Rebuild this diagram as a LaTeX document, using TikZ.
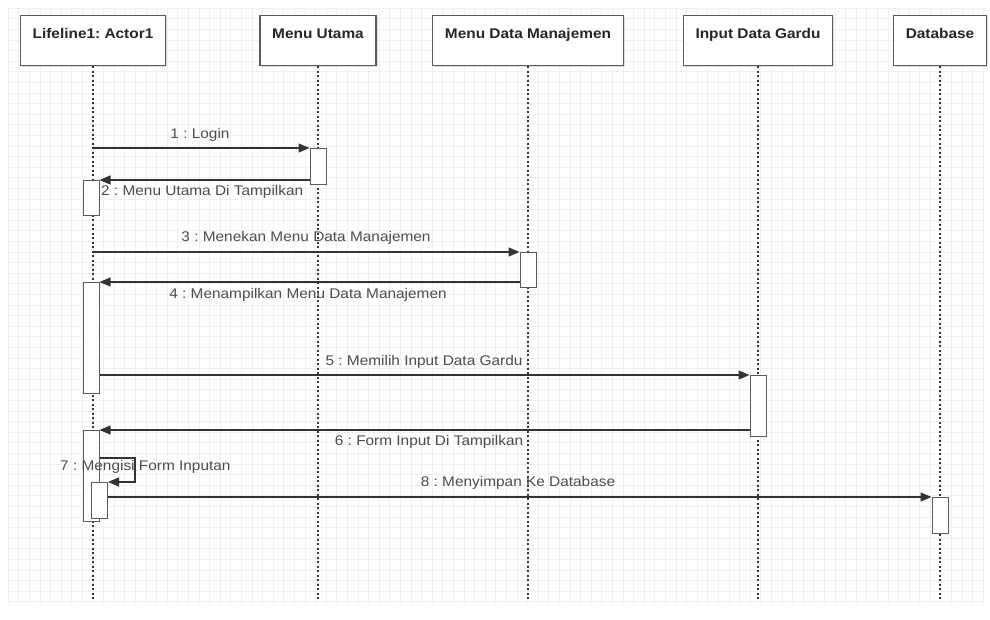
\documentclass[tikz,border=0pt]{standalone}
\usepackage{fontspec}
\setmainfont{Liberation Sans}
\newfontfamily\widesans[FakeStretch=1.1]{Liberation Sans}
\usetikzlibrary{arrows.meta,shadows}
\frenchspacing
\begin{document}
\begin{tikzpicture}[x=1pt,y=-1pt,
  head/.style={draw=black!65, line width=1.2pt, fill=white, minimum height=50pt,
    inner sep=0pt, drop shadow={opacity=0.25, shadow xshift=1.5pt, shadow yshift=-1.5pt}},
  hdtxt/.style={font=\widesans\fontsize{14}{16}\selectfont\bfseries, text=black!85, anchor=base},
  life/.style={draw=black!80, line width=1.1pt, dash pattern=on 2pt off 2.5pt},
  actbox/.style={draw=black!65, line width=1pt, fill=white, minimum width=16pt, inner sep=0pt},
  msg/.style={draw=black!80, line width=1.1pt, -{Triangle[length=11pt,width=9pt]}},
  lbl/.style={font=\widesans\fontsize{14}{16}\selectfont, text=black!70, inner sep=1pt},
  gridline/.style={draw=black!6, line width=0.5pt}]
\useasboundingbox (0,0) rectangle (990,619);
\fill[white] (0,0) rectangle (990,619);

% background grid
\foreach \gx in {8,18.6,...,985} \draw[gridline] (\gx,8) -- (\gx,604);
\foreach \gy in {8,18.6,...,604} \draw[gridline] (8,\gy) -- (985,\gy);

% lifeline heads
\node[head, minimum width=145pt, anchor=north] (lf) at (93,15) {};
\node[hdtxt] at (93,38) {Lifeline1: Actor1};
\node[head, minimum width=116pt, anchor=north] (mu) at (318,15) {};
\node[hdtxt] at (318,38) {Menu Utama};
\node[head, minimum width=191pt, anchor=north] (mdm) at (528,15) {};
\node[hdtxt] at (528,38) {Menu Data Manajemen};
\node[head, minimum width=149pt, anchor=north] (idg) at (758,15) {};
\node[hdtxt] at (758,38) {Input Data Gardu};
\node[head, minimum width=93pt, anchor=north] (db) at (940,15) {};
\node[hdtxt] at (940,38) {Database};

% lifeline ends
\coordinate (lfE) at (93,600);
\coordinate (muE) at (318,600);
\coordinate (mdmE) at (528,600);
\coordinate (idgE) at (758,600);
\coordinate (dbE) at (940,600);
\draw[life] (lf.south) -- (lfE);
\draw[life] (mu.south) -- (muE);
\draw[life] (mdm.south) -- (mdmE);
\draw[life] (idg.south) -- (idgE);
\draw[life] (db.south) -- (dbE);

% activation bars
\node[actbox, minimum height=36pt, anchor=north] (mu1) at (318,148) {};
\node[actbox, minimum height=35pt, anchor=north] (a1) at (91,180) {};
\node[actbox, minimum height=35pt, anchor=north] (mdm1) at (528,252) {};
\node[actbox, minimum height=111pt, anchor=north] (a2) at (91,282) {};
\node[actbox, minimum height=61pt, anchor=north] (idg1) at (758,375) {};
\node[actbox, minimum height=91pt, anchor=north] (a3) at (91,430) {};
\node[actbox, minimum height=36pt, anchor=north] (a4) at (99.5,482) {};
\node[actbox, minimum height=36pt, anchor=north] (db1) at (940,497) {};

% messages
\coordinate (m1s) at (93,148);
\coordinate (m3s) at (93,252);
\coordinate (m7a) at (135,458);
\draw[msg] (m1s) -- (mu1.north west);
\draw[msg] (mu1.west |- a1.north) -- (a1.north east);
\draw[msg] (m3s) -- (mdm1.north west);
\draw[msg] (mdm1.west |- a2.north) -- (a2.north east);
\draw[msg] (a2.east |- idg1.north) -- (idg1.north west);
\draw[msg] (idg1.west |- a3.north) -- (a3.north east);
\draw[msg] (a3.east |- m7a) -- (m7a) |- (a4.north east);
\draw[msg] (a4.east |- db1.north) -- (db1.north west);

% message labels
\node[lbl] (l1) at (200,135) {1 : Login};
\node[lbl, anchor=west] (l2) at (100,192) {2 : Menu Utama Di Tampilkan};
\node[lbl] (l3) at (306,238) {3 : Menekan Menu Data Manajemen};
\node[lbl] (l4) at (308,295) {4 : Menampilkan Menu Data Manajemen};
\node[lbl] (l5) at (424,362) {5 : Memilih Input Data Gardu};
\node[lbl] (l6) at (429,442) {6 : Form Input Di Tampilkan};
\node[lbl, anchor=west] (l7) at (59,467) {7 : Mengisi Form Inputan};
\node[lbl] (l8) at (518,483) {8 : Menyimpan Ke Database};
\end{tikzpicture}
\end{document}
